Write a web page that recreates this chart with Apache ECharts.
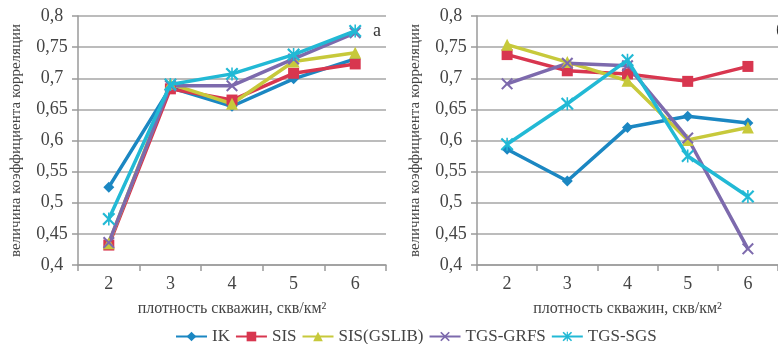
<!DOCTYPE html>
<html><head><meta charset="utf-8">
<script src="https://cdn.jsdelivr.net/npm/echarts@6/dist/echarts.min.js"></script>
<style>html,body{margin:0;padding:0;background:#fff}#c{width:778px;height:344px}</style>
</head><body><div id="c"></div>
<script>
const categories = ['2', '3', '4', '5', '6'];
const seriesNames = ['IK', 'SIS', 'SIS(GSLIB)', 'TGS-GRFS', 'TGS-SGS'];
// chart a
const a_IK    = [0.525, 0.685, 0.655, 0.699, 0.731];
const a_SIS   = [0.432, 0.683, 0.665, 0.708, 0.723];
const a_GSLIB = [0.435, 0.691, 0.659, 0.727, 0.741];
const a_GRFS  = [0.436, 0.688, 0.688, 0.731, 0.773];
const a_SGS   = [0.474, 0.690, 0.707, 0.738, 0.776];
// chart б
const b_IK    = [0.586, 0.535, 0.621, 0.639, 0.628];
const b_SIS   = [0.738, 0.712, 0.707, 0.695, 0.719];
const b_GSLIB = [0.754, 0.726, 0.696, 0.601, 0.621];
const b_GRFS  = [0.691, 0.724, 0.720, 0.604, 0.426];
const b_SGS   = [0.594, 0.659, 0.729, 0.575, 0.510];
const yTicks = ['0,4','0,45','0,5','0,55','0,6','0,65','0,7','0,75','0,8'];
const xTitle = 'плотность скважин, скв/км²';
const yTitle = 'величина коэффициента корреляции';

const colors = ['#1b87c2', '#d8364f', '#c7c93b', '#7d6aad', '#22b9d5'];
const X = 'path://M0,1.2L1.2,0L5,3.8L8.8,0L10,1.2L6.2,5L10,8.8L8.8,10L5,6.2L1.2,10L0,8.8L3.8,5Z';
const AST = 'path://M0,1.2L1.2,0L5,3.8L8.8,0L10,1.2L6.2,5L10,8.8L8.8,10L5,6.2L1.2,10L0,8.8L3.8,5ZM4.4,0L5.6,0L5.6,10L4.4,10Z';
const symbols = ['diamond', 'rect', 'triangle', X, AST];
const sizes = [11, 11, 12, 12, 13];
const FONT = 'Liberation Serif';

const chart = echarts.init(document.getElementById('c'));
function xAxis(gi){ return {
  type:'category', gridIndex:gi, data:categories, boundaryGap:true,
  axisLine:{lineStyle:{color:'#9a9a9a', width:1.5}},
  axisTick:{show:true, length:6, lineStyle:{color:'#9a9a9a', width:1.5}},
  axisLabel:{color:'#444', fontFamily:FONT, fontSize:18, margin:10},
  name:xTitle, nameLocation:'middle', nameGap:36,
  nameTextStyle:{color:'#444', fontFamily:FONT, fontSize:16}
};}
function yAxis(gi){ return {
  type:'value', gridIndex:gi, min:0.4, max:0.8, interval:0.05,
  axisLine:{show:true, lineStyle:{color:'#9a9a9a', width:1.5}},
  axisTick:{show:true, length:6, lineStyle:{color:'#9a9a9a', width:1.5}},
  splitLine:{lineStyle:{color:'#a6a6a6', width:1.6}},
  axisLabel:{color:'#444', fontFamily:FONT, fontSize:18, margin:26, align:'center',
    formatter:(v)=>{const i=Math.round((v-0.4)/0.05); return yTicks[i];}},
  name:yTitle, nameLocation:'middle', nameGap:54, nameRotate:90,
  nameTextStyle:{color:'#444', fontFamily:FONT, fontSize:15}
};}
const dataA = [a_IK, a_SIS, a_GSLIB, a_GRFS, a_SGS];
const dataB = [b_IK, b_SIS, b_GSLIB, b_GRFS, b_SGS];
const series = [];
[dataA, dataB].forEach((set, gi) => {
  set.forEach((d, i) => {
    series.push({
      name: seriesNames[i], type:'line', xAxisIndex:gi, yAxisIndex:gi, data:d,
      symbol: symbols[i], symbolSize: sizes[i], showAllSymbol:true,
      lineStyle:{color:colors[i], width:3.5},
      itemStyle:{color:colors[i]},
      animation:false, z: 2 + (i===4?1:0)
    });
  });
});
chart.setOption({
  color: colors,
  animation:false,
  grid:[
    {left:78, right:392, top:16, bottom:79},
    {left:477, right:-6, top:16, bottom:79}
  ],
  xAxis:[xAxis(0), xAxis(1)],
  yAxis:[yAxis(0), yAxis(1)],
  legend:{
    data: seriesNames, top:323, left:170, itemGap:5, itemWidth:31, itemHeight:12,
    textStyle:{color:'#444', fontFamily:FONT, fontSize:17}
  },
  graphic:[
    {type:'text', left:373, top:22, style:{text:'а', fontFamily:FONT, fontSize:18, fill:'#333'}},
    {type:'text', left:776, top:22, style:{text:'б', fontFamily:FONT, fontSize:18, fill:'#333'}}
  ],
  series: series
});
</script></body></html>
